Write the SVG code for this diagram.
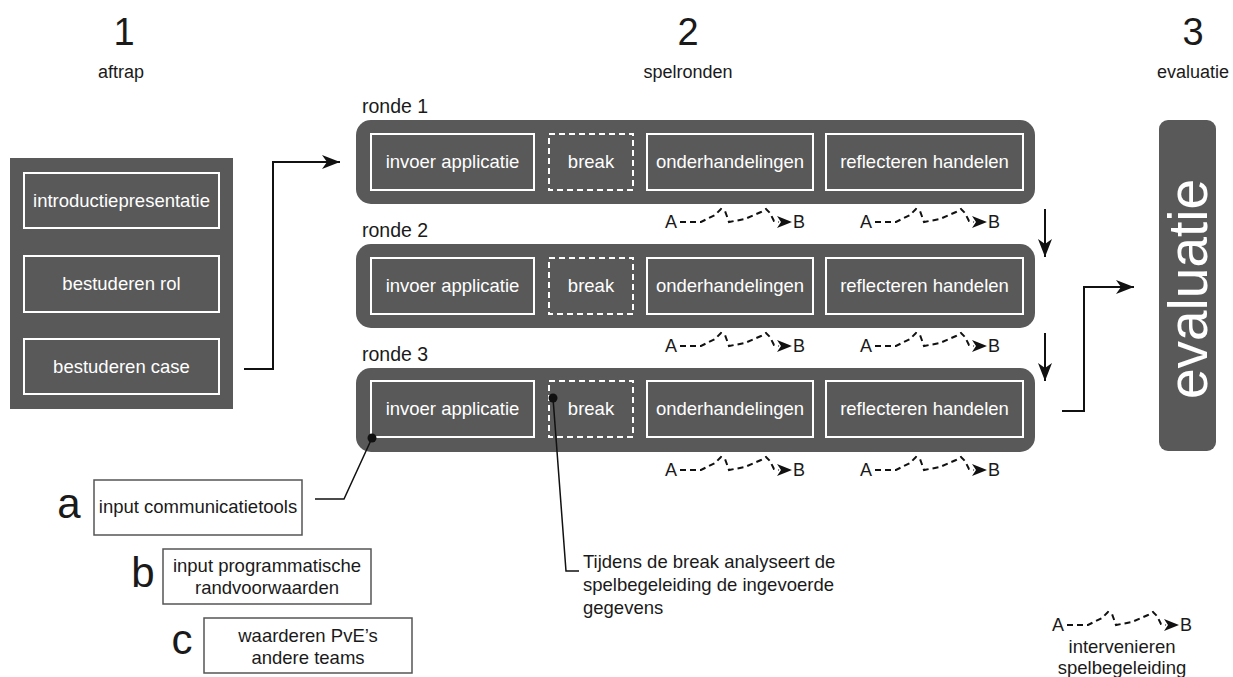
<svg xmlns="http://www.w3.org/2000/svg" width="1233" height="677" viewBox="0 0 1233 677">
  <style>
    text { font-family: "Liberation Sans", Arial, sans-serif; }
    .panel { fill: #595959; }
    .step { fill: #595959; stroke: #ffffff; stroke-width: 2; }
    .pause { fill: #595959; stroke: #ffffff; stroke-width: 2; stroke-dasharray: 6 4; }
    .lt { fill: #ffffff; font-size: 18.5px; text-anchor: middle; }
    .head { font-size: 38px; text-anchor: middle; fill: #1a1a1a; }
    .sub { font-size: 18px; text-anchor: middle; fill: #1a1a1a; }
    .rl { font-size: 19.5px; fill: #1a1a1a; }
    .note { fill: #ffffff; stroke: #555555; stroke-width: 1.5; }
    .nt { font-size: 18.5px; fill: #1a1a1a; text-anchor: middle; }
    .cap { font-size: 18.5px; fill: #1a1a1a; }
    .letter { font-size: 42px; fill: #1a1a1a; text-anchor: middle; }
    .wire { fill: none; stroke: #111111; stroke-width: 2; }
    .lead { fill: none; stroke: #111111; stroke-width: 1.5; }
    .sq { fill: none; stroke: #111111; stroke-width: 2; stroke-dasharray: 6 4; }
    .ab { font-size: 18px; fill: #1a1a1a; }
  </style>
  <defs>
    <marker id="arr" markerUnits="userSpaceOnUse" markerWidth="20" markerHeight="14" refX="18" refY="7" orient="auto">
      <path d="M0,0 L18,7 L0,14 L5,7 Z" fill="#111111"/>
    </marker>
    <!-- wavy dashed intervention line, origin at the baseline of "A" -->
    <g id="wave">
      <path class="sq" d="M15,-6 L36,-6 L50,-13 L56,-19 L60,-17 L64,-6 L80,-9 L96,-16 L101,-19 L105,-15 L109,-7 L114,-6"/>
      <path d="M127,-6 L112,-12 L116,-6 L112,0 Z" fill="#111111"/>
    </g>
  </defs>

  <!-- phase headings -->
  <g id="headings">
    <text class="head" x="124" y="45">1</text>
    <text class="sub" x="121" y="78">aftrap</text>
    <text class="head" x="688" y="45">2</text>
    <text class="sub" x="688" y="78">spelronden</text>
    <text class="head" x="1193" y="45">3</text>
    <text class="sub" x="1193" y="78">evaluatie</text>
  </g>

  <!-- phase 1: kick-off -->
  <g id="aftrap">
    <rect class="panel" x="10" y="158" width="223" height="251"/>
    <rect class="step" x="24" y="173" width="195" height="55"/>
    <text class="lt" x="121.5" y="207">introductiepresentatie</text>
    <rect class="step" x="24" y="256" width="195" height="56"/>
    <text class="lt" x="121.5" y="290">bestuderen rol</text>
    <rect class="step" x="24" y="339" width="195" height="55"/>
    <text class="lt" x="121.5" y="373">bestuderen case</text>
  </g>

  <!-- phase 2: rounds -->
  <g id="ronde1">
    <text class="rl" x="362" y="113">ronde 1</text>
    <rect class="panel" x="356" y="120" width="679" height="84" rx="15"/>
    <rect class="step" x="371" y="134" width="163" height="56"/>
    <text class="lt" x="452.5" y="168">invoer applicatie</text>
    <rect class="pause" x="549" y="134" width="84" height="56"/>
    <text class="lt" x="591" y="168">break</text>
    <rect class="step" x="647" y="134" width="166" height="56"/>
    <text class="lt" x="730" y="168">onderhandelingen</text>
    <rect class="step" x="826" y="134" width="197" height="56"/>
    <text class="lt" x="924.5" y="168">reflecteren handelen</text>
  </g>
  <g id="ronde2">
    <text class="rl" x="362" y="237">ronde 2</text>
    <rect class="panel" x="356" y="244" width="679" height="84" rx="15"/>
    <rect class="step" x="371" y="258" width="163" height="56"/>
    <text class="lt" x="452.5" y="292">invoer applicatie</text>
    <rect class="pause" x="549" y="258" width="84" height="56"/>
    <text class="lt" x="591" y="292">break</text>
    <rect class="step" x="647" y="258" width="166" height="56"/>
    <text class="lt" x="730" y="292">onderhandelingen</text>
    <rect class="step" x="826" y="258" width="197" height="56"/>
    <text class="lt" x="924.5" y="292">reflecteren handelen</text>
  </g>
  <g id="ronde3">
    <text class="rl" x="362" y="361">ronde 3</text>
    <rect class="panel" x="356" y="368" width="679" height="84" rx="15"/>
    <rect class="step" x="371" y="381" width="163" height="56"/>
    <text class="lt" x="452.5" y="415">invoer applicatie</text>
    <rect class="pause" x="549" y="381" width="84" height="56"/>
    <text class="lt" x="591" y="415">break</text>
    <rect class="step" x="647" y="381" width="166" height="56"/>
    <text class="lt" x="730" y="415">onderhandelingen</text>
    <rect class="step" x="826" y="381" width="197" height="56"/>
    <text class="lt" x="924.5" y="415">reflecteren handelen</text>
  </g>

  <!-- phase 3: evaluation -->
  <g id="evaluatie">
    <rect class="panel" x="1159" y="120" width="57" height="331" rx="9"/>
    <text x="1207" y="289" transform="rotate(-90 1207 289)" fill="#ffffff" font-size="55" text-anchor="middle">evaluatie</text>
  </g>

  <!-- interventions between the steps -->
  <g id="interventies">
    <use href="#wave" x="665" y="228"/>
    <text class="ab" x="665" y="228">A</text><text class="ab" x="793" y="228">B</text>
    <use href="#wave" x="860" y="228"/>
    <text class="ab" x="860" y="228">A</text><text class="ab" x="988" y="228">B</text>
    <use href="#wave" x="665" y="352"/>
    <text class="ab" x="665" y="352">A</text><text class="ab" x="793" y="352">B</text>
    <use href="#wave" x="860" y="352"/>
    <text class="ab" x="860" y="352">A</text><text class="ab" x="988" y="352">B</text>
    <use href="#wave" x="665" y="476"/>
    <text class="ab" x="665" y="476">A</text><text class="ab" x="793" y="476">B</text>
    <use href="#wave" x="860" y="476"/>
    <text class="ab" x="860" y="476">A</text><text class="ab" x="988" y="476">B</text>
  </g>

  <!-- legend -->
  <g id="legenda">
    <use href="#wave" x="1052" y="631"/>
    <text class="ab" x="1052" y="631">A</text><text class="ab" x="1180" y="631">B</text>
    <text class="nt" x="1122" y="653">intervenieren</text>
    <text class="nt" x="1122" y="674">spelbegeleiding</text>
  </g>

  <!-- inputs -->
  <g id="input-a">
    <text class="letter" x="69" y="518">a</text>
    <rect class="note" x="94" y="480" width="208" height="55"/>
    <text class="nt" x="198" y="513">input communicatietools</text>
  </g>
  <g id="input-b">
    <text class="letter" x="143" y="587">b</text>
    <rect class="note" x="163" y="549" width="208" height="55"/>
    <text class="nt" x="267" y="572">input programmatische</text>
    <text class="nt" x="267" y="594">randvoorwaarden</text>
  </g>
  <g id="input-c">
    <text class="letter" x="182" y="654">c</text>
    <rect class="note" x="204" y="618" width="208" height="55"/>
    <text class="nt" x="308" y="642">waarderen PvE’s</text>
    <text class="nt" x="308" y="664">andere teams</text>
  </g>
  <g id="toelichting-break">
    <text class="cap" x="583" y="568">Tijdens de break analyseert de</text>
    <text class="cap" x="583" y="591">spelbegeleiding de ingevoerde</text>
    <text class="cap" x="583" y="614">gegevens</text>
  </g>

  <!-- connectors -->
  <g id="connectors">
    <path class="wire" d="M244,369 H273 V162 H340" marker-end="url(#arr)"/>
    <path class="wire" d="M1045,209 V257" marker-end="url(#arr)"/>
    <path class="wire" d="M1045,333 V381" marker-end="url(#arr)"/>
    <path class="wire" d="M1062,411 H1084 V287 H1134" marker-end="url(#arr)"/>
    <path class="lead" d="M315,499 H344 L372,438"/>
    <circle cx="372" cy="438" r="4.5" fill="#111111"/>
    <path class="lead" d="M579,571 H566 L553,398"/>
    <circle cx="553" cy="398" r="4.5" fill="#111111"/>
  </g>
</svg>
